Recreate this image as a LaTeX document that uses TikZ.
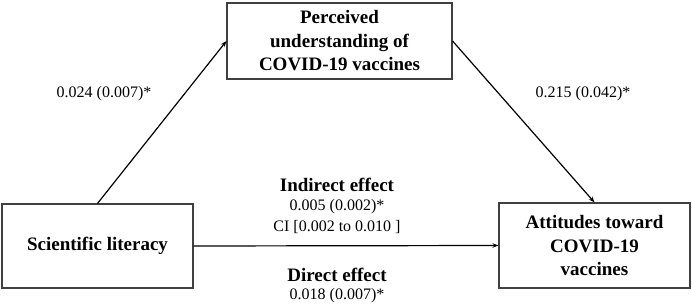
\documentclass[tikz,border=0pt]{standalone}
\usepackage{fontspec}
\setmainfont{Liberation Serif}
\usetikzlibrary{arrows.meta}
\tikzset{
  boxnode/.style={draw=black!75, line width=1.1pt, rectangle, align=center, inner sep=0pt,
    font=\fontsize{19}{23.5}\selectfont\bfseries},
  lbl/.style={inner sep=0pt, font=\fontsize{16}{19}\selectfont},
  blbl/.style={inner sep=0pt, font=\fontsize{19}{23}\selectfont\bfseries},
  conn/.style={line width=1.2pt, -{Stealth[length=6pt,width=4.5pt]}}
}
\begin{document}
\begin{tikzpicture}[x=1pt,y=-1pt]
\useasboundingbox (0,0) rectangle (692,307);
\node[boxnode, minimum width=225pt, minimum height=76pt] (med) at (339.5,41) {Perceived\\understanding of\\COVID-19 vaccines};
\node[boxnode, minimum width=191pt, minimum height=84pt] (sci) at (97.5,246) {Scientific literacy};
\node[boxnode, minimum width=191pt, minimum height=85pt] (att) at (594.5,245.5) {Attitudes toward\\COVID-19\\vaccines};
\draw[conn] (sci.north) -- (med.west);
\draw[conn] (med.east) -- (att.north);
\draw[conn] (sci.east) -- (att.west);
\node[lbl] (a) at (104,94) {0.024 (0.007)*};
\node[lbl] (b) at (583,94) {0.215 (0.042)*};
\node[blbl] (ind) at (337,185) {Indirect effect};
\node[lbl] (indv) at (337,207) {0.005 (0.002)*};
\node[lbl] (ci) at (337,227) {CI [0.002 to 0.010 ]};
\node[blbl] (dir) at (337,275) {Direct effect};
\node[lbl] (dirv) at (337,296) {0.018 (0.007)*};
\end{tikzpicture}
\end{document}
